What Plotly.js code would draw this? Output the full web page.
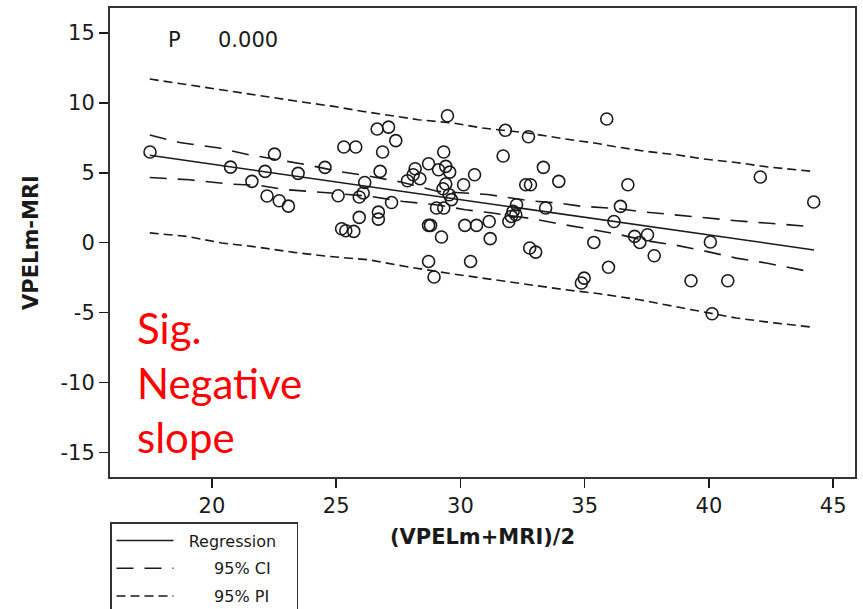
<!DOCTYPE html>
<html>
<head>
<meta charset="utf-8">
<script src="https://cdn.plot.ly/plotly-3.0.1.min.js"></script>
<style>html,body{margin:0;padding:0;background:#fff;}#chart{width:863px;height:609px;}</style>
</head>
<body>
<div id="chart"></div>
<script>
// Observations: mean (x) and difference (y)
const meanVals = [17.51,20.75,21.61,22.14,22.52,23.47,22.22,22.71,23.08,24.55,26.65,27.11,27.40,25.31,25.79,26.87,29.48,26.77,26.15,26.09,25.93,25.08,27.23,25.93,26.70,26.70,25.22,25.39,25.71,28.18,28.72,28.10,27.87,28.37,29.33,29.12,29.41,29.57,29.41,29.30,30.57,30.13,29.55,29.64,29.04,29.33,28.72,28.80,29.24,30.18,30.65,31.16,31.20,28.72,28.94,30.41,35.89,31.81,32.74,31.72,33.34,33.96,32.63,32.82,36.74,32.26,33.43,36.44,32.12,32.23,32.05,31.95,36.18,37.01,37.22,37.53,37.80,35.37,32.79,33.03,35.96,34.98,34.87,42.07,44.22,40.06,39.28,40.76,40.13];
const diffVals = [6.49,5.41,4.39,5.10,6.34,4.96,3.34,3.00,2.62,5.39,8.13,8.27,7.30,6.85,6.85,6.49,9.08,5.10,4.31,3.56,3.27,3.36,2.88,1.81,2.19,1.69,1.00,0.86,0.81,5.29,5.65,4.86,4.43,4.58,6.49,5.22,5.46,5.05,4.20,3.86,4.86,4.15,3.43,3.08,2.48,2.48,1.24,1.24,0.41,1.24,1.24,1.52,0.29,-1.34,-2.45,-1.34,8.85,8.04,7.58,6.20,5.39,4.39,4.15,4.15,4.15,2.72,2.48,2.60,2.24,2.00,1.88,1.52,1.52,0.45,0.02,0.57,-0.93,0.02,-0.38,-0.67,-1.76,-2.53,-2.88,4.70,2.91,0.05,-2.72,-2.72,-5.08];

// Regression line
const regX = [17.5, 44.23];
const regY = [6.25, -0.52];

// 95% confidence band
const ciUpperX = [17.5,18.7,20.3,21.5,23.9,25.1,26.4,27.6,29.1,31.1,32.8,33.9,34.9,36.3,37.3,38.0,39.7,41.1,42.3,44.0];
const ciUpperY = [7.70,7.17,6.77,6.29,5.55,5.10,4.74,4.34,3.67,3.45,3.00,2.84,2.60,2.45,2.22,2.10,1.77,1.57,1.41,1.17];
const ciLowerX = [17.5,19.1,20.7,21.9,22.9,24.1,25.3,26.4,27.7,29.0,30.2,31.3,32.9,33.8,35.0,36.3,37.5,38.7,39.9,41.1,42.3,44.0];
const ciLowerY = [4.67,4.50,4.20,4.10,3.81,3.67,3.48,3.31,2.95,2.72,2.36,2.12,1.72,1.41,1.05,0.62,0.14,-0.19,-0.62,-1.10,-1.45,-2.05];

// 95% prediction band
const piUpperX = [17.5,20.1,21.7,23.5,24.9,26.1,28.3,29.7,30.9,32.7,34.3,35.4,36.3,37.5,38.7,39.8,41.1,42.4,44.2];
const piUpperY = [11.71,10.99,10.59,10.10,9.75,9.39,8.80,8.56,8.20,7.85,7.40,7.13,6.85,6.53,6.29,5.99,5.74,5.41,5.10];
const piLowerX = [17.5,19.0,20.4,21.6,23.3,24.7,26.3,27.8,29.45,30.9,32.4,34.2,35.6,37.2,39.3,41.1,42.7,44.2];
const piLowerY = [0.70,0.45,-0.02,-0.26,-0.69,-0.98,-1.22,-1.70,-2.17,-2.53,-2.88,-3.36,-3.65,-4.08,-4.79,-5.39,-5.75,-6.05];

const xTicks = [20,25,30,35,40,45];
const yTicks = [-15,-10,-5,0,5,10,15];
const NB = '\u00a0';
const legendNames = [NB+NB+"Regression"+NB+NB+NB, NB.repeat(7)+"95% CI"+NB+NB+NB, NB.repeat(7)+"95% PI"+NB+NB+NB];

const ink = '#1a1a1a';
const traces = [
  {x: meanVals, y: diffVals, type: 'scatter', mode: 'markers', showlegend: false,
   marker: {symbol: 'circle-open', size: 12, color: ink, line: {width: 1.6, color: ink}}},
  {x: regX, y: regY, type: 'scatter', mode: 'lines', name: legendNames[0], legendgroup: 'reg',
   line: {color: ink, width: 1.5}},
  {x: ciUpperX, y: ciUpperY, type: 'scatter', mode: 'lines', name: legendNames[1], legendgroup: 'ci',
   line: {color: ink, width: 1.6, dash: '17px,11px'}},
  {x: ciLowerX, y: ciLowerY, type: 'scatter', mode: 'lines', name: legendNames[1], legendgroup: 'ci', showlegend: false,
   line: {color: ink, width: 1.6, dash: '17px,11px'}},
  {x: piUpperX, y: piUpperY, type: 'scatter', mode: 'lines', name: legendNames[2], legendgroup: 'pi',
   line: {color: ink, width: 1.6, dash: '9px,5px'}},
  {x: piLowerX, y: piLowerY, type: 'scatter', mode: 'lines', name: legendNames[2], legendgroup: 'pi', showlegend: false,
   line: {color: ink, width: 1.6, dash: '9px,5px'}}
];

const layout = {
  width: 863, height: 609,
  margin: {l: 110, r: 8, t: 8, b: 132, autoexpand: false},
  paper_bgcolor: '#fff', plot_bgcolor: '#fff',
  font: {family: 'DejaVu Sans, Verdana, sans-serif', color: ink},
  xaxis: {
    range: [15.9, 45.88], tickvals: xTicks, ticktext: xTicks.map(String),
    ticks: 'outside', ticklen: 9, tickwidth: 1.5, tickcolor: ink,
    showline: true, linewidth: 2, linecolor: '#333', mirror: true,
    showgrid: false, zeroline: false,
    tickfont: {size: 21, color: ink},
    title: {text: '<b>(VPELm+MRI)/2</b>', font: {size: 21, color: ink}, standoff: 12}
  },
  yaxis: {
    range: [-16.76, 16.79], tickvals: yTicks, ticktext: yTicks.map(String),
    ticks: 'outside', ticklen: 9, tickwidth: 1.5, tickcolor: ink,
    showline: true, linewidth: 2, linecolor: '#333', mirror: true,
    showgrid: false, zeroline: false,
    tickfont: {size: 21, color: ink},
    title: {text: '<b>VPELm-MRI</b>', font: {size: 21, color: ink}, standoff: 16}
  },
  showlegend: true,
  legend: {
    x: 0, xanchor: 'left', y: -0.096, yanchor: 'top',
    bordercolor: '#333', borderwidth: 1.5, bgcolor: '#fff',
    font: {size: 16, color: ink}, itemwidth: 57,
    traceorder: 'grouped', tracegroupgap: 4
  },
  annotations: [
    {xref: 'paper', yref: 'paper', x: (174-110)/745, y: (477-40)/469, text: 'P', showarrow: false,
     xanchor: 'center', yanchor: 'middle', font: {size: 21, color: ink}},
    {xref: 'paper', yref: 'paper', x: (248-110)/745, y: (477-40)/469, text: '0.000', showarrow: false,
     xanchor: 'center', yanchor: 'middle', font: {size: 21, color: ink}},
    {xref: 'paper', yref: 'paper', x: (135-110)/745, y: (477-382)/469, text: 'Sig.<br>Negative<br>slope', showarrow: false,
     xanchor: 'left', yanchor: 'middle', align: 'left', font: {family: 'Lato, Carlito, sans-serif', size: 42, color: '#ff0000'}}
  ]
};

Plotly.newPlot('chart', traces, layout, {displayModeBar: false, staticPlot: true});
</script>
</body>
</html>
